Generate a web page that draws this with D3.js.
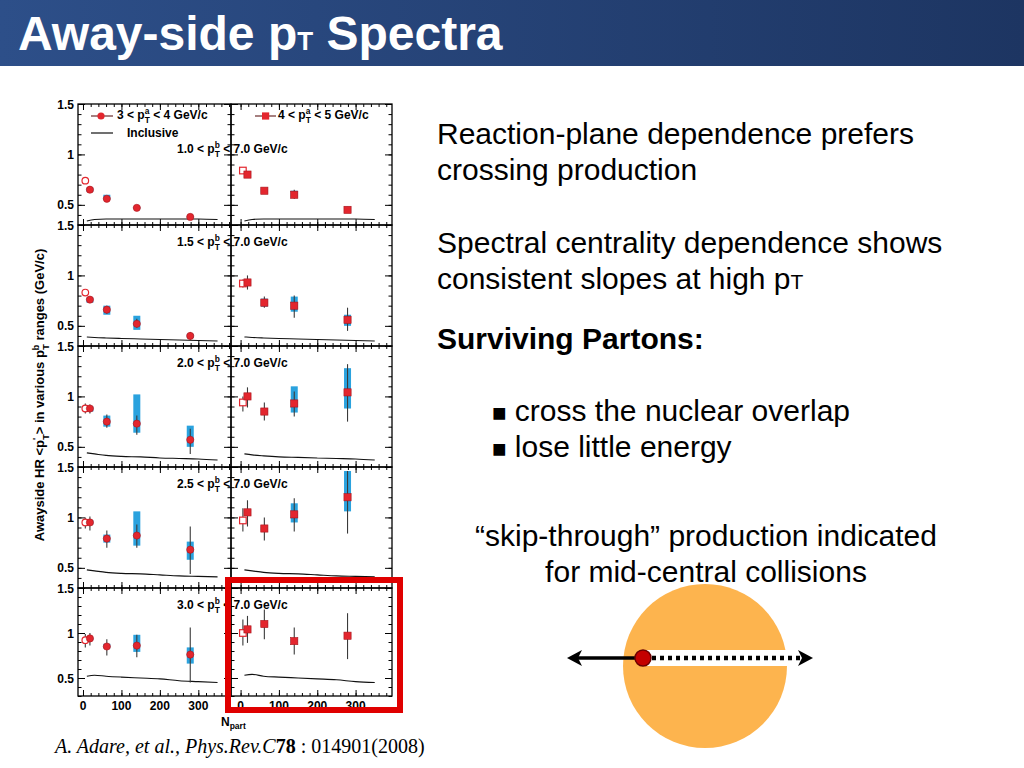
<!DOCTYPE html>
<meta charset="utf-8">
<style>
  body { margin: 0; background: #fff; }
  svg { display: block; font-family: "Liberation Sans", Arial, sans-serif; }
</style>
<script src="https://d3js.org/d3.v7.min.js"></script>
<div id="chart"></div>
<script>
// N_part of the centrality bins and of the reference point
const npart = [18, 62, 140, 279];
const npartRef = 6;
const pTbLow = ["1.0", "1.5", "2.0", "2.5", "3.0"];
const yTicks = [0.5, 1, 1.5];
const xTicks = [0, 100, 200, 300];

// 3 < pTa < 4 GeV/c (left column), one row per pTb bin
const hrA = [[0.65, 0.56, 0.47, 0.38], [0.76, 0.66, 0.52, 0.40], [0.88, 0.75, 0.73, 0.57], [0.95, 0.79, 0.82, 0.68], [0.94, 0.85, 0.86, 0.76]];
const sysLoA = [[0.63, 0.55, 0.46, 0.37], [0.73, 0.61, 0.46, 0.38], [0.85, 0.70, 0.64, 0.50], [0.93, 0.75, 0.72, 0.58], [0.92, 0.83, 0.79, 0.66]];
const sysHiA = [[0.67, 0.60, 0.48, 0.39], [0.78, 0.70, 0.60, 0.42], [0.90, 0.81, 1.02, 0.71], [0.97, 0.83, 1.06, 0.76], [0.95, 0.88, 0.98, 0.84]];
const statLoA = [[0.64, 0.54, 0.46, 0.36], [0.74, 0.62, 0.48, 0.36], [0.83, 0.69, 0.62, 0.43], [0.87, 0.70, 0.70, 0.44], [0.86, 0.75, 0.73, 0.45]];
const statHiA = [[0.66, 0.58, 0.48, 0.40], [0.78, 0.70, 0.57, 0.44], [0.92, 0.82, 0.81, 0.68], [1.01, 0.87, 0.93, 0.91], [1.00, 0.93, 0.98, 1.06]];
const refA = [0.74, 0.83, 0.88, 0.95, 0.92];
const refLoA = [0.74, 0.83, 0.83, 0.89, 0.84];
const refHiA = [0.74, 0.83, 0.93, 1.00, 0.99];

// 4 < pTa < 5 GeV/c (right column)
const hrB = [[0.80, 0.64, 0.60, 0.45], [0.93, 0.73, 0.70, 0.56], [1.00, 0.85, 0.93, 1.04], [1.05, 0.89, 1.03, 1.20], [1.04, 1.10, 0.91, 0.97]];
const sysLoB = [[0.78, 0.62, 0.57, 0.42], [0.91, 0.69, 0.64, 0.50], [0.97, 0.82, 0.84, 0.88], [1.03, 0.87, 0.95, 1.06], [1.02, 1.08, 0.89, 0.95]];
const sysHiB = [[0.82, 0.66, 0.64, 0.48], [0.95, 0.77, 0.79, 0.61], [1.02, 0.88, 1.10, 1.28], [1.07, 0.91, 1.14, 1.46], [1.06, 1.12, 0.93, 0.99]];
const statLoB = [[0.77, 0.62, 0.56, 0.42], [0.86, 0.68, 0.58, 0.45], [0.89, 0.76, 0.80, 0.75], [0.91, 0.77, 0.86, 0.84], [0.89, 0.93, 0.76, 0.71]];
const statHiB = [[0.83, 0.66, 0.65, 0.48], [1.00, 0.79, 0.80, 0.68], [1.09, 0.94, 1.05, 1.32], [1.17, 1.00, 1.19, 1.46], [1.19, 1.26, 1.06, 1.22]];
const refB = [0.84, 0.92, 0.94, 0.97, 1.00];
const refLoB = [0.84, 0.88, 0.85, 0.86, 0.86];
const refHiB = [0.84, 0.96, 1.00, 1.09, 1.15];

// inclusive curves
const incNpart = [10, 30, 60, 100, 150, 200, 250, 300, 350];
const incA = [[0.34, 0.355, 0.36, 0.36, 0.36, 0.36, 0.36, 0.36, 0.355],
              [0.39, 0.385, 0.38, 0.375, 0.37, 0.365, 0.36, 0.355, 0.35],
              [0.44, 0.43, 0.415, 0.405, 0.40, 0.39, 0.385, 0.38, 0.37],
              [0.48, 0.47, 0.455, 0.445, 0.44, 0.43, 0.42, 0.415, 0.41],
              [0.52, 0.53, 0.52, 0.51, 0.50, 0.49, 0.47, 0.46, 0.45]];
const incB = [[0.34, 0.355, 0.36, 0.36, 0.36, 0.36, 0.36, 0.36, 0.355],
              [0.39, 0.385, 0.38, 0.375, 0.37, 0.365, 0.36, 0.355, 0.35],
              [0.43, 0.42, 0.41, 0.40, 0.395, 0.39, 0.385, 0.38, 0.37],
              [0.48, 0.47, 0.455, 0.445, 0.44, 0.43, 0.42, 0.415, 0.41],
              [0.53, 0.54, 0.52, 0.51, 0.50, 0.49, 0.48, 0.46, 0.45]];

const red = "#e3262e", blue = "#2aa2de";

const svg = d3.select("#chart").append("svg")
    .attr("width", 1024).attr("height", 768);

// title bar
const grad = svg.append("defs").append("linearGradient").attr("id", "bar");
grad.append("stop").attr("offset", "0%").attr("stop-color", "#2d4f89");
grad.append("stop").attr("offset", "100%").attr("stop-color", "#1d3562");
svg.append("rect").attr("width", 1024).attr("height", 66).attr("fill", "url(#bar)");
const title = svg.append("text").attr("x", 18).attr("y", 50)
    .attr("fill", "#fff").attr("font-weight", "bold").attr("font-size", 48);
title.append("tspan").text("Away-side p");
title.append("tspan").attr("font-size", 26).text("T");
title.append("tspan").text(" Spectra");

// p with stacked super/subscript, ROOT style
function stackP(t, size, before, sup, sub, after, supW) {
  const s = size * 0.7;
  t.append("tspan").text(before + "p");
  t.append("tspan").attr("font-size", s).attr("dy", -size * 0.42).text(sup);
  t.append("tspan").attr("font-size", s).attr("dx", -s * supW).attr("dy", size * 0.78).text(sub);
  t.append("tspan").attr("dy", -size * 0.36).text(after);
}

const cols = [{x0: 78, x1: 231, dom: [-13, 385]}, {x0: 231, x1: 392, dom: [-25, 395]}];
const rows = [[104, 225], [225, 346], [346, 467], [467, 588], [588, 696]];
const plot = svg.append("g");

rows.forEach(function(r, ri) {
  cols.forEach(function(c, ci) {
    const x = d3.scaleLinear().domain(c.dom).range([c.x0, c.x1]);
    const y = d3.scaleLinear().domain([0.3, 1.5]).range([r[1], r[0]]);
    const g = plot.append("g");
    const hr = ci ? hrB : hrA, sLo = ci ? sysLoB : sysLoA, sHi = ci ? sysHiB : sysHiA;
    const eLo = ci ? statLoB : statLoA, eHi = ci ? statHiB : statHiA;
    const ref = ci ? refB : refA, rLo = ci ? refLoB : refLoA, rHi = ci ? refHiB : refHiA;
    const inc = ci ? incB : incA;

    // ticks on all four sides, pointing in
    const tk = function(axis, vals, len, tr) {
      g.append("g").attr("transform", tr)
        .call(axis.tickValues(vals).tickSize(len).tickFormat(""))
        .call(a => a.select(".domain").remove())
        .selectAll("line").attr("stroke", "#000").attr("stroke-width", 1);
    };
    tk(d3.axisRight(y), yTicks, 7, `translate(${c.x0},0)`);
    tk(d3.axisRight(y), y.ticks(12), 3.5, `translate(${c.x0},0)`);
    tk(d3.axisLeft(y), yTicks, 7, `translate(${c.x1},0)`);
    tk(d3.axisLeft(y), y.ticks(12), 3.5, `translate(${c.x1},0)`);
    tk(d3.axisTop(x), xTicks, 6, `translate(0,${r[1]})`);
    tk(d3.axisTop(x), d3.range(0, c.dom[1], 20), 3, `translate(0,${r[1]})`);
    tk(d3.axisBottom(x), xTicks, 6, `translate(0,${r[0]})`);
    tk(d3.axisBottom(x), d3.range(0, c.dom[1], 20), 3, `translate(0,${r[0]})`);
    g.append("rect").attr("x", c.x0).attr("y", r[0])
      .attr("width", c.x1 - c.x0).attr("height", r[1] - r[0])
      .attr("fill", "none").attr("stroke", "#000").attr("stroke-width", 1.3);

    // inclusive
    g.append("path").datum(inc[ri])
      .attr("d", d3.line().x((d, i) => x(incNpart[i])).y(d => y(d)).curve(d3.curveMonotoneX))
      .attr("fill", "none").attr("stroke", "#111").attr("stroke-width", 1.1);

    // systematic boxes
    g.selectAll(".sys").data(hr[ri]).join("rect")
      .attr("x", (d, i) => x(npart[i]) - 3.5).attr("width", 7)
      .attr("y", (d, i) => y(sHi[ri][i]))
      .attr("height", (d, i) => y(sLo[ri][i]) - y(sHi[ri][i]))
      .attr("fill", blue);
    // statistical bars
    g.selectAll(".stat").data(hr[ri]).join("line")
      .attr("x1", (d, i) => x(npart[i])).attr("x2", (d, i) => x(npart[i]))
      .attr("y1", (d, i) => y(eLo[ri][i])).attr("y2", (d, i) => y(eHi[ri][i]))
      .attr("stroke", "#3a3a3a").attr("stroke-width", 1.1);
    g.append("line").attr("x1", x(npartRef)).attr("x2", x(npartRef))
      .attr("y1", y(rLo[ri])).attr("y2", y(rHi[ri]))
      .attr("stroke", "#3a3a3a").attr("stroke-width", 1.1);

    // reference (open) and Au+Au (filled) markers
    if (ci === 0) {
      g.append("circle").attr("cx", x(npartRef)).attr("cy", y(ref[ri])).attr("r", 3.3)
        .attr("fill", "#fff").attr("stroke", red).attr("stroke-width", 1.2);
      g.selectAll(".pt").data(hr[ri]).join("circle")
        .attr("cx", (d, i) => x(npart[i])).attr("cy", d => y(d)).attr("r", 3.6)
        .attr("fill", red).attr("stroke", "#a8161d").attr("stroke-width", 0.6);
    } else {
      g.append("rect").attr("x", x(npartRef) - 3.3).attr("y", y(ref[ri]) - 3.3)
        .attr("width", 6.6).attr("height", 6.6)
        .attr("fill", "#fff").attr("stroke", red).attr("stroke-width", 1.2);
      g.selectAll(".pt").data(hr[ri]).join("rect")
        .attr("x", (d, i) => x(npart[i]) - 3.6).attr("y", d => y(d) - 3.6)
        .attr("width", 7.2).attr("height", 7.2)
        .attr("fill", red).attr("stroke", "#a8161d").attr("stroke-width", 0.6);
    }

    // tick labels
    if (ci === 0) {
      g.selectAll(".yl").data(yTicks).join("text")
        .attr("x", c.x0 - 4).attr("y", d => y(d) + 4.5)
        .attr("text-anchor", "end").attr("font-size", 12).attr("font-weight", "bold")
        .text(d => d);
    }
    if (ri === rows.length - 1) {
      g.selectAll(".xl").data(xTicks).join("text")
        .attr("x", d => x(d)).attr("y", r[1] + 14)
        .attr("text-anchor", "middle").attr("font-size", 12).attr("font-weight", "bold")
        .text(d => d);
    }
  });

  // pTb range label across the two columns
  const lab = plot.append("text").attr("x", 177).attr("y", ri === 0 ? 153 : r[0] + 21)
    .attr("font-size", 12).attr("font-weight", "bold");
  stackP(lab, 12, pTbLow[ri] + " < ", "b", "T", " < 7.0 GeV/c", 0.6);
});

// legend
plot.append("line").attr("x1", 91).attr("x2", 113).attr("y1", 116).attr("y2", 116)
  .attr("stroke", "#6a2a2a").attr("stroke-width", 1.2);
plot.append("circle").attr("cx", 101).attr("cy", 116).attr("r", 3.6).attr("fill", red);
stackP(plot.append("text").attr("x", 117).attr("y", 119).attr("font-size", 12).attr("font-weight", "bold"),
  12, "3 < ", "a", "T", " < 4 GeV/c", 0.55);
plot.append("line").attr("x1", 91).attr("x2", 113).attr("y1", 133).attr("y2", 133)
  .attr("stroke", "#111").attr("stroke-width", 1.2);
plot.append("text").attr("x", 127).attr("y", 137).attr("font-size", 12)
  .attr("font-weight", "bold").text("Inclusive");
plot.append("line").attr("x1", 255).attr("x2", 276).attr("y1", 116).attr("y2", 116)
  .attr("stroke", "#6a2a2a").attr("stroke-width", 1.2);
plot.append("rect").attr("x", 262).attr("y", 112.4).attr("width", 7.2).attr("height", 7.2).attr("fill", red);
stackP(plot.append("text").attr("x", 278).attr("y", 119).attr("font-size", 12).attr("font-weight", "bold"),
  12, "4 < ", "a", "T", " < 5 GeV/c", 0.55);

// axis titles
const yt = plot.append("text").attr("transform", "translate(44,395) rotate(-90)")
  .attr("text-anchor", "middle").attr("font-size", 13).attr("font-weight", "bold");
yt.append("tspan").text("Awayside HR <p");
yt.append("tspan").attr("font-size", 9).attr("dy", -5).text("'");
yt.append("tspan").attr("font-size", 9).attr("dx", -2).attr("dy", 10).text("T");
yt.append("tspan").attr("dy", -5).text("> in various p");
yt.append("tspan").attr("font-size", 9).attr("dy", -5).text("b");
yt.append("tspan").attr("font-size", 9).attr("dx", -5).attr("dy", 10).text("T");
yt.append("tspan").attr("dy", -5).text(" ranges (GeV/c)");
const xt = plot.append("text").attr("x", 221).attr("y", 726).attr("font-size", 12).attr("font-weight", "bold");
xt.append("tspan").text("N");
xt.append("tspan").attr("font-size", 8.5).attr("dy", 3).text("part");

// highlight box
svg.append("rect").attr("x", 228).attr("y", 580).attr("width", 172).attr("height", 130)
  .attr("fill", "none").attr("stroke", "#e00000").attr("stroke-width", 6);

// citation
const cite = svg.append("text").attr("x", 55).attr("y", 753)
  .attr("font-family", "'Liberation Serif', 'DejaVu Serif', serif").attr("font-size", 20);
cite.append("tspan").attr("font-style", "italic").text("A. Adare, et al., Phys.Rev.C");
cite.append("tspan").attr("font-weight", "bold").text("78");
cite.append("tspan").text(" : 014901(2008)");

// text on the right
const body = svg.append("g").attr("font-size", 30).attr("fill", "#000");
body.append("text").attr("x", 437).attr("y", 144).text("Reaction-plane dependence prefers");
body.append("text").attr("x", 437).attr("y", 180).text("crossing production");
body.append("text").attr("x", 437).attr("y", 253).text("Spectral centrality dependence shows");
const hp = body.append("text").attr("x", 437).attr("y", 289);
hp.append("tspan").text("consistent slopes at high p");
hp.append("tspan").attr("font-size", 21).text("T");
body.append("text").attr("x", 437).attr("y", 349).attr("font-weight", "bold").text("Surviving Partons:");
const b1 = body.append("text").attr("x", 492).attr("y", 421);
b1.append("tspan").attr("font-size", 24).text("\u25A0");
b1.append("tspan").text(" cross the nuclear overlap");
const b2 = body.append("text").attr("x", 492).attr("y", 457);
b2.append("tspan").attr("font-size", 24).text("\u25A0");
b2.append("tspan").text(" lose little energy");
body.append("text").attr("x", 706).attr("y", 546).attr("text-anchor", "middle")
  .text("\u201Cskip-through\u201D production indicated");
body.append("text").attr("x", 706).attr("y", 582).attr("text-anchor", "middle")
  .text("for mid-central collisions");

// skip-through sketch
const sk = svg.append("g");
sk.append("circle").attr("cx", 705).attr("cy", 666).attr("r", 82).attr("fill", "#fdb44e");
sk.append("rect").attr("x", 643).attr("y", 650).attr("width", 150).attr("height", 16).attr("fill", "#fff");
sk.append("line").attr("x1", 652).attr("x2", 803).attr("y1", 658).attr("y2", 658)
  .attr("stroke", "#000").attr("stroke-width", 4.5).attr("stroke-dasharray", "4,4");
sk.append("path").attr("d", "M813,658 L798,650 L802,658 L798,666 Z").attr("fill", "#000");
sk.append("line").attr("x1", 578).attr("x2", 643).attr("y1", 658).attr("y2", 658)
  .attr("stroke", "#000").attr("stroke-width", 3.5);
sk.append("path").attr("d", "M567,658 L582,650 L578,658 L582,666 Z").attr("fill", "#000");
sk.append("circle").attr("cx", 643).attr("cy", 658).attr("r", 8)
  .attr("fill", "#c40000").attr("stroke", "#6b0000").attr("stroke-width", 1.5);
</script>
